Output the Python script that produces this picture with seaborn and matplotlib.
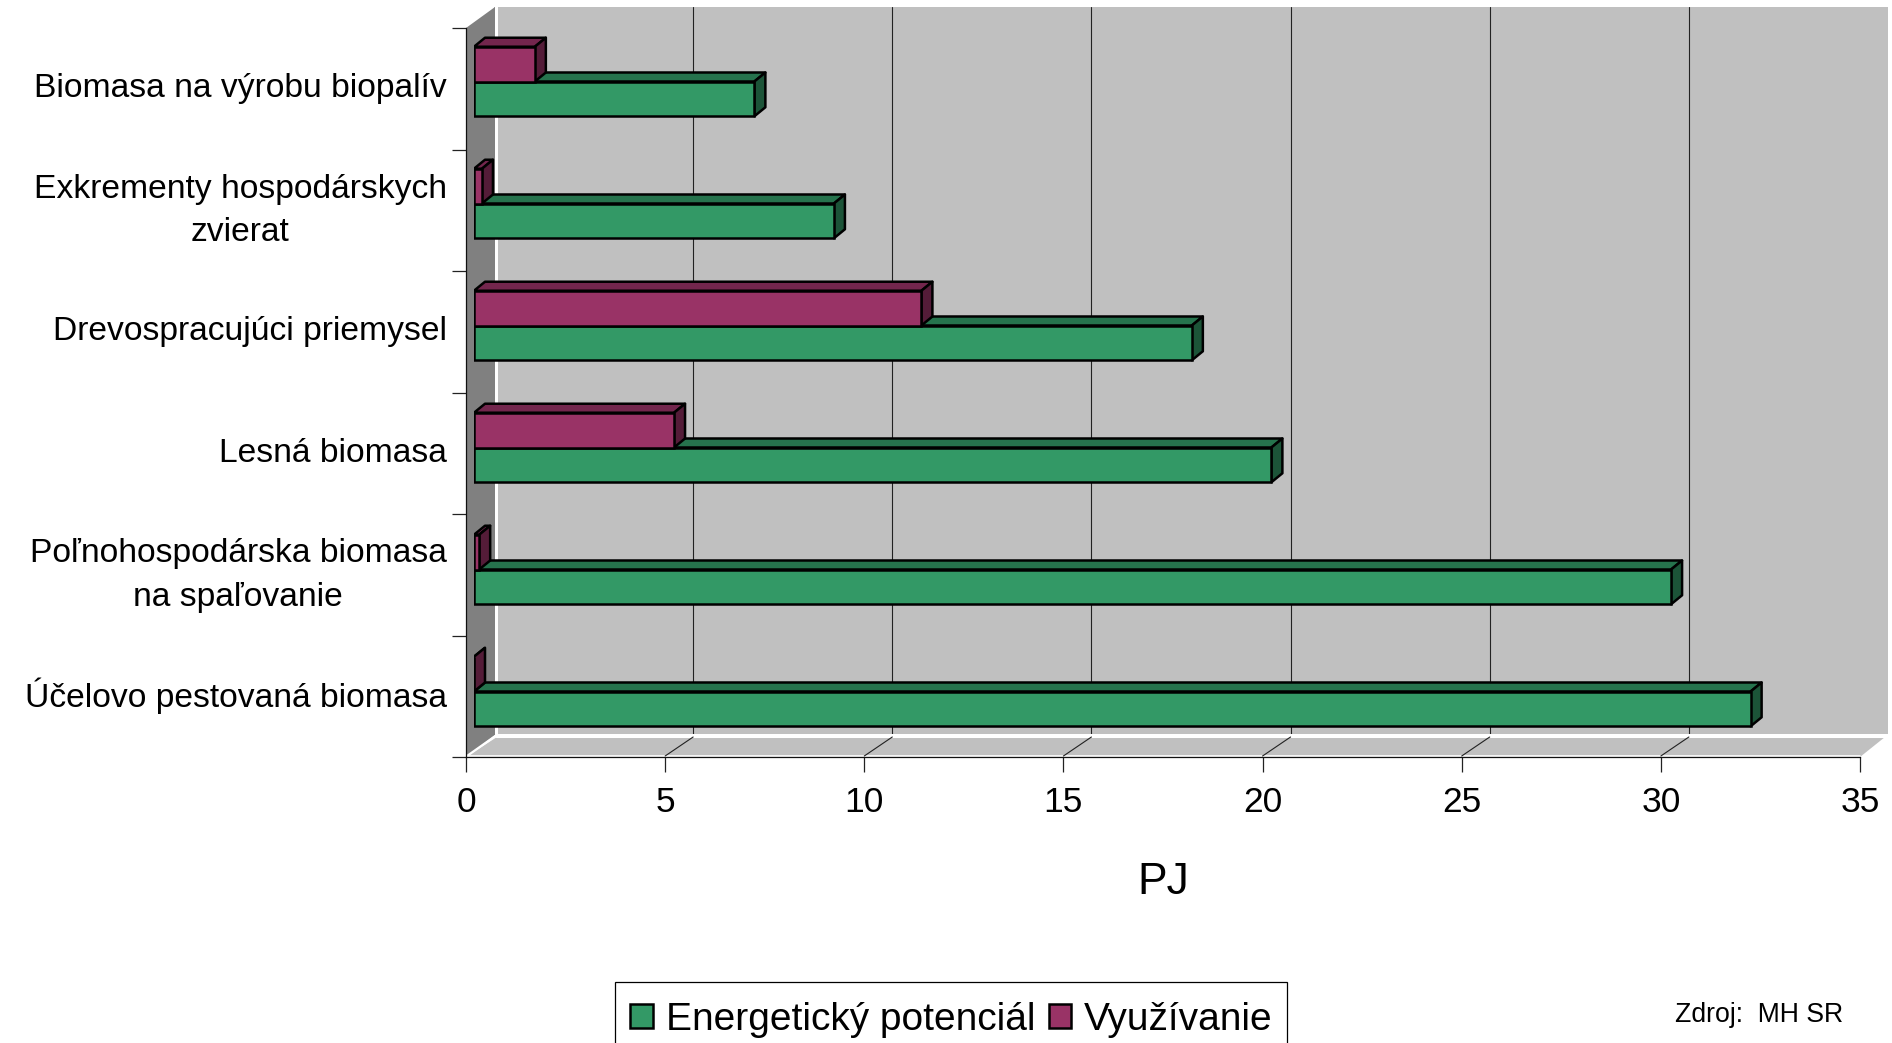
import numpy as np
import pandas as pd
import matplotlib
matplotlib.use('Agg')
import matplotlib.pyplot as plt
from matplotlib.patches import Polygon, Rectangle
from matplotlib.lines import Line2D
import seaborn as sns

categories = ['Biomasa na výrobu biopalív', 'Exkrementy hospodárskych\nzvierat',
              'Drevospracujúci priemysel', 'Lesná biomasa',
              'Poľnohospodárska biomasa\nna spaľovanie', 'Účelovo pestovaná biomasa']
potencial = [7.05, 9.05, 18.05, 20.05, 30.1, 32.1]
vyuzivanie = [1.53, 0.2, 11.25, 5.03, 0.13, 0.0]
x_ticks = [0, 5, 10, 15, 20, 25, 30, 35]

GREEN = '#339966'
PURPLE = '#993366'
W, H = 1892, 1043


def box(left, top, right, bottom):
    # pixel box (from top left) to figure fractions
    return [left / W, 1 - bottom / H, (right - left) / W, (bottom - top) / H]


sns.set_theme(style='white')
plt.rcParams['font.family'] = ['Liberation Sans', 'DejaVu Sans']
plt.rcParams['text.color'] = 'black'
plt.rcParams['xtick.labelcolor'] = 'black'
plt.rcParams['ytick.labelcolor'] = 'black'
plt.rcParams['axes.labelcolor'] = 'black'

df = pd.DataFrame({'kat': categories, 'Energetický potenciál': potencial, 'Využívanie': vyuzivanie})
df = df.melt(id_vars='kat', var_name='serie', value_name='pj')

fig = plt.figure(figsize=(W / 100, H / 100), dpi=100, facecolor='white')

# back wall with the gridlines
back = fig.add_axes(box(494, 7, 1888, 734), zorder=2)
back.set_facecolor('#C0C0C0')
back.set_xlim(0, 35)
back.set_xticks(x_ticks[1:-1])
back.set_yticks([])
back.tick_params(labelbottom=False, length=0)
back.grid(axis='x', color='#222222', lw=0.8)
sns.despine(ax=back, left=True, bottom=True, top=True, right=True)

# floor, side wall and white seams in pixel coordinates
front = fig.add_axes([0, 0, 1, 1], zorder=3)
front.set_xlim(0, W)
front.set_ylim(H, 0)
front.axis('off')
front.patch.set_alpha(0)
front.add_patch(Polygon([(466, 28), (495, 7), (495, 735), (466, 757)], fc='#808080', ec='none'))
front.add_patch(Polygon([(466, 757), (497, 737), (1885, 737), (1860, 757)], fc='#C0C0C0', ec='none'))
front.add_patch(Rectangle((495, 7), 2.5, 728, fc='white', ec='none'))
front.add_line(Line2D([496, 1892], [735.5, 735.5], color='white', lw=2.2))
front.add_line(Line2D([467, 496], [756, 735.5], color='white', lw=1.6))
front.add_line(Line2D([467, 1860], [755.5, 755.5], color='white', lw=1.2))
for t in x_ticks[1:-1]:
    fx = 466 + t * (1860 - 466) / 35
    bx = 494 + t * (1888 - 494) / 35
    front.add_line(Line2D([fx, bx], [756, 737], color='#222222', lw=0.8))
# legend frame runs off the bottom of the picture
front.add_patch(Rectangle((615, 982), 672, 90, fc='white', ec='black', lw=0.9))

# axis frame with ticks and labels
ax = fig.add_axes(box(466, 28, 1860, 757), zorder=4)
ax.patch.set_alpha(0)
ax.set_xlim(0, 35)
ax.set_ylim(6, 0)
ax.set_xticks(x_ticks)
# two-line labels sit a little higher than the single-line ones
label_y = [i + 0.5 - (0.075 if '\n' in c else 0.03) for i, c in enumerate(categories)]
ax.set_yticks(label_y)
ax.set_yticklabels(categories, fontsize=24.2, multialignment='center', linespacing=1.53)
ax.set_yticks(np.arange(7), minor=True)
ax.tick_params(axis='y', which='major', length=0, pad=14)
ax.tick_params(axis='y', which='minor', left=True, length=10, width=0.9, color='#222222')
ax.tick_params(axis='x', bottom=True, length=11, width=0.9, color='#222222', labelsize=25.5, pad=10)
ax.set_xlabel('PJ', fontsize=32, labelpad=31)
sns.despine(ax=ax)
for s in ['left', 'bottom']:
    ax.spines[s].set_color('#111111')
    ax.spines[s].set_linewidth(0.9)

# bars, drawn by seaborn, with zero shifted to the middle of the depth
bars = fig.add_axes(box(474, 81.5 - 122 * 0.5, 474 + 39.77 * 35, 691.5 + 122 * 0.5), zorder=5)
sns.barplot(data=df, y='kat', x='pj', hue='serie', order=categories,
            hue_order=['Využívanie', 'Energetický potenciál'],
            palette={'Energetický potenciál': GREEN, 'Využívanie': PURPLE},
            width=0.57, saturation=1, edgecolor='black', linewidth=1.8, legend=False, ax=bars)
bars.set_xlim(0, 35)
bars.set_ylim(5.5, -0.5)
bars.axis('off')

# depth faces worked out from the bars themselves
ddx = 11 / 39.77
ddy = 9 / 122
for p in bars.patches:
    x0, y0, w, h = p.get_x(), p.get_y(), p.get_width(), p.get_height()
    c = np.array(matplotlib.colors.to_rgb(p.get_facecolor()))
    is_purple = matplotlib.colors.to_hex(c) == PURPLE.lower()
    z = 6 if is_purple else 3
    p.set_zorder(z + 0.5)
    x1 = x0 + w
    y1 = y0 + h
    top = [(x0, y0), (x1, y0), (x1 + ddx, y0 - ddy), (x0 + ddx, y0 - ddy)]
    side = [(x1, y0), (x1 + ddx, y0 - ddy), (x1 + ddx, y1 - ddy), (x1, y1)]
    bars.add_patch(Polygon(top, fc=c * 0.75, ec='black', lw=1.8, joinstyle='round', zorder=z))
    bars.add_patch(Polygon(side, fc=c * 0.55, ec='black', lw=1.8, joinstyle='round', zorder=z))

handles = [Rectangle((0, 0), 1, 1, fc=GREEN, ec='black', lw=1.8),
           Rectangle((0, 0), 1, 1, fc=PURPLE, ec='black', lw=1.8)]
leg = fig.legend(handles, ['Energetický potenciál', 'Využívanie'], ncol=2,
                 loc='upper left', bbox_to_anchor=(630 / W, 1 - 1001.6 / H), borderaxespad=0,
                 fontsize=28, frameon=False,
                 handlelength=0.58, handleheight=0.6, handletextpad=0.34, columnspacing=0.34,
                 borderpad=0)
leg.set_zorder(10)

fig.text(1675 / W, 1 - 1015 / H, 'Zdroj:  MH SR', fontsize=19.2, va='center', ha='left')

fig.savefig('out.png', dpi=100)
